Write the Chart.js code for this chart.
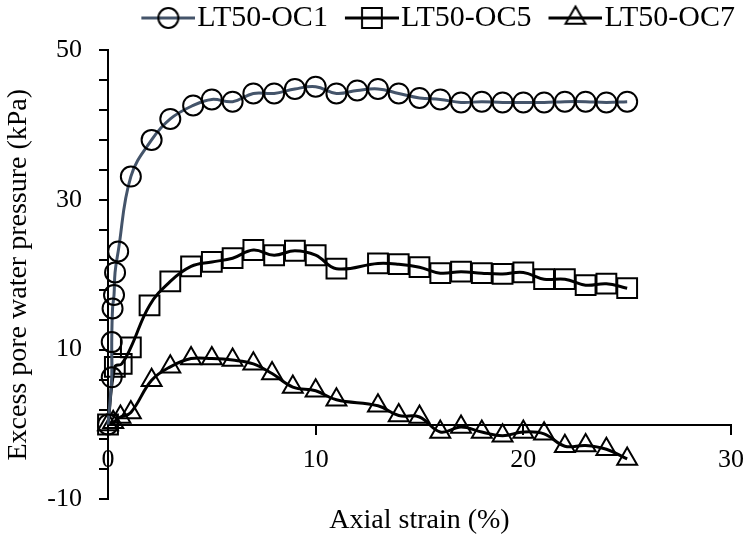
<!DOCTYPE html>
<html>
<head>
<meta charset="utf-8">
<script src="https://cdn.jsdelivr.net/npm/chart.js@4.4.1/dist/chart.umd.min.js"></script>
<style>
html, body { margin: 0; padding: 0; background: #fff; }
</style>
</head>
<body>
<canvas id="myChart" width="747" height="538"></canvas>
<script>
var seriesNames = ['LT50-OC1', 'LT50-OC5', 'LT50-OC7'];

// axial strain (%) / excess pore water pressure (kPa)
var oc1Strain   = [0, 0.18, 0.18, 0.22, 0.29, 0.34, 0.49, 1.1, 2.1, 3, 4.1, 5, 6, 7, 8, 9, 10, 11, 12, 13, 14, 15, 16, 17, 18, 19, 20, 21, 22, 23, 24, 25];
var oc1Pressure = [0, 6.3, 11.0, 15.5, 17.3, 20.3, 23.1, 33.1, 38.0, 40.8, 42.6, 43.4, 43.1, 44.2, 44.2, 44.8, 45.1, 44.2, 44.6, 44.8, 44.2, 43.6, 43.4, 43.0, 43.1, 43.0, 43.0, 43.0, 43.1, 43.1, 43.0, 43.1];

var oc5Strain   = [0, 0.33, 0.66, 1.1, 2, 3, 4, 5, 6, 7, 8, 9, 10, 11, 13, 14, 15, 16, 17, 18, 19, 20, 21, 22, 23, 24, 25];
var oc5Pressure = [0, 7.7, 8.1, 10.3, 15.9, 19.1, 21.1, 21.7, 22.2, 23.3, 22.6, 23.2, 22.6, 20.8, 21.5, 21.4, 21.0, 20.2, 20.4, 20.2, 20.1, 20.3, 19.4, 19.4, 18.6, 18.8, 18.2];

var oc7Strain   = [0, 0.25, 0.6, 1.1, 2.1, 3, 4, 5, 6, 7, 7.9, 8.9, 10, 11, 13, 14, 15, 16, 17, 18, 19, 20, 21, 22, 23, 24, 25];
var oc7Pressure = [0, 0.3, 1.0, 1.6, 5.9, 7.7, 8.8, 8.8, 8.6, 8.1, 6.8, 5.0, 4.5, 3.3, 2.5, 1.2, 1.0, -1.0, -0.35, -1.0, -1.5, -1.0, -1.25, -2.9, -2.8, -3.3, -4.6];

var xTicks = [0, 10, 20, 30];
var yTicks = [-10, -6, -2, 2, 6, 10, 14, 18, 22, 26, 30, 34, 38, 42, 46, 50];
var yLabels = [-10, 10, 30, 50];

var lineColors = ['#44546a', '#000000', '#000000'];
var markerStyles = ['circle', 'rect', 'triangle'];
var markerSizes = [10, 14, 11.5];

Chart.defaults.font.family = "'Liberation Serif', 'Times New Roman', serif";
Chart.defaults.color = '#000';

function toPoints(xs, ys) {
  return xs.map(function (x, i) { return {x: x, y: ys[i]}; });
}

// small picture of line + marker for the legend
function makeIcon(color, style, r) {
  var c = document.createElement('canvas');
  c.width = 81;
  c.height = 30;
  var g = c.getContext('2d');
  g.strokeStyle = color;
  g.lineWidth = 3;
  g.beginPath();
  g.moveTo(27, 15);
  g.lineTo(81, 15);
  g.stroke();
  g.strokeStyle = '#000';
  g.lineWidth = 2;
  g.beginPath();
  if (style == 'circle') {
    g.arc(54, 15, r, 0, Math.PI * 2);
  } else if (style == 'rect') {
    var s = r * Math.SQRT1_2;
    g.rect(54 - s, 15 - s, 2 * s, 2 * s);
  } else {
    g.moveTo(54, 15 - r);
    g.lineTo(54 + r * 0.866, 15 + r / 2);
    g.lineTo(54 - r * 0.866, 15 + r / 2);
    g.closePath();
  }
  g.stroke();
  return c;
}

var allData = [
  toPoints(oc1Strain, oc1Pressure),
  toPoints(oc5Strain, oc5Pressure),
  toPoints(oc7Strain, oc7Pressure)
];

var datasets = seriesNames.map(function (name, i) {
  return {
    label: name,
    data: allData[i],
    borderColor: lineColors[i],
    borderWidth: 3,
    pointStyle: markerStyles[i],
    pointRadius: markerSizes[i],
    pointBorderColor: '#000',
    pointBorderWidth: 2,
    pointBackgroundColor: 'rgba(0,0,0,0)',
    tension: 0.4,
    fill: false,
    clip: false
  };
});

var icons = seriesNames.map(function (n, i) {
  return makeIcon(lineColors[i], markerStyles[i], markerSizes[i]);
});

var ctx = document.getElementById('myChart').getContext('2d');
var chart = new Chart(ctx, {
  type: 'line',
  data: { datasets: datasets },
  options: {
    responsive: false,
    animation: false,
    layout: { padding: { top: 0, right: 9, bottom: 0, left: 0 } },
    plugins: {
      legend: {
        position: 'top',
        align: 'end',
        labels: {
          usePointStyle: true,
          pointStyleWidth: 55,
          padding: 3,
          font: { size: 30 },
          color: '#000',
          generateLabels: function (chart) {
            return chart.data.datasets.map(function (ds, i) {
              return { text: ds.label, pointStyle: icons[i], datasetIndex: i, hidden: false, lineWidth: 0, fontColor: '#000' };
            });
          }
        }
      },
      // spacer under the legend
      subtitle: { display: true, text: '', position: 'top', weight: 100, padding: 0, font: { size: 7, lineHeight: 1 } },
      title: {
        display: true,
        text: 'Axial strain (%)',
        position: 'bottom',
        fullSize: false,
        color: '#000',
        font: { size: 28, weight: 'normal' },
        padding: { top: 4, bottom: 1 }
      },
      tooltip: { enabled: false }
    },
    scales: {
      x: {
        type: 'linear',
        position: { y: 0 },
        min: 0,
        max: 30,
        afterBuildTicks: function (axis) {
          axis.ticks = xTicks.map(function (v) { return { value: v }; });
        },
        afterFit: function (axis) {
          axis.paddingLeft = 0;
          axis.paddingRight = 0;
        },
        ticks: { font: { size: 26 }, color: '#000', padding: 11, maxRotation: 0 },
        grid: { drawOnChartArea: false, drawTicks: true, tickLength: 9, color: '#000', lineWidth: 2 },
        border: { color: '#000', width: 2 }
      },
      y: {
        type: 'linear',
        min: -10,
        max: 50,
        afterBuildTicks: function (axis) {
          axis.ticks = yTicks.map(function (v) { return { value: v }; });
        },
        afterFit: function (axis) { axis.width = 108; },
        ticks: {
          autoSkip: false,
          font: { size: 26 },
          color: '#000',
          padding: 17,
          callback: function (v) { return yLabels.indexOf(v) >= 0 ? v : ''; }
        },
        grid: { drawOnChartArea: false, drawTicks: true, tickLength: 9, color: '#000', lineWidth: 2 },
        border: { color: '#000', width: 2 },
        title: {
          display: true,
          text: 'Excess pore water pressure (kPa)',
          color: '#000',
          font: { size: 28 },
          padding: { top: 2, bottom: 0 }
        }
      }
    }
  }
});
</script>
</body>
</html>
